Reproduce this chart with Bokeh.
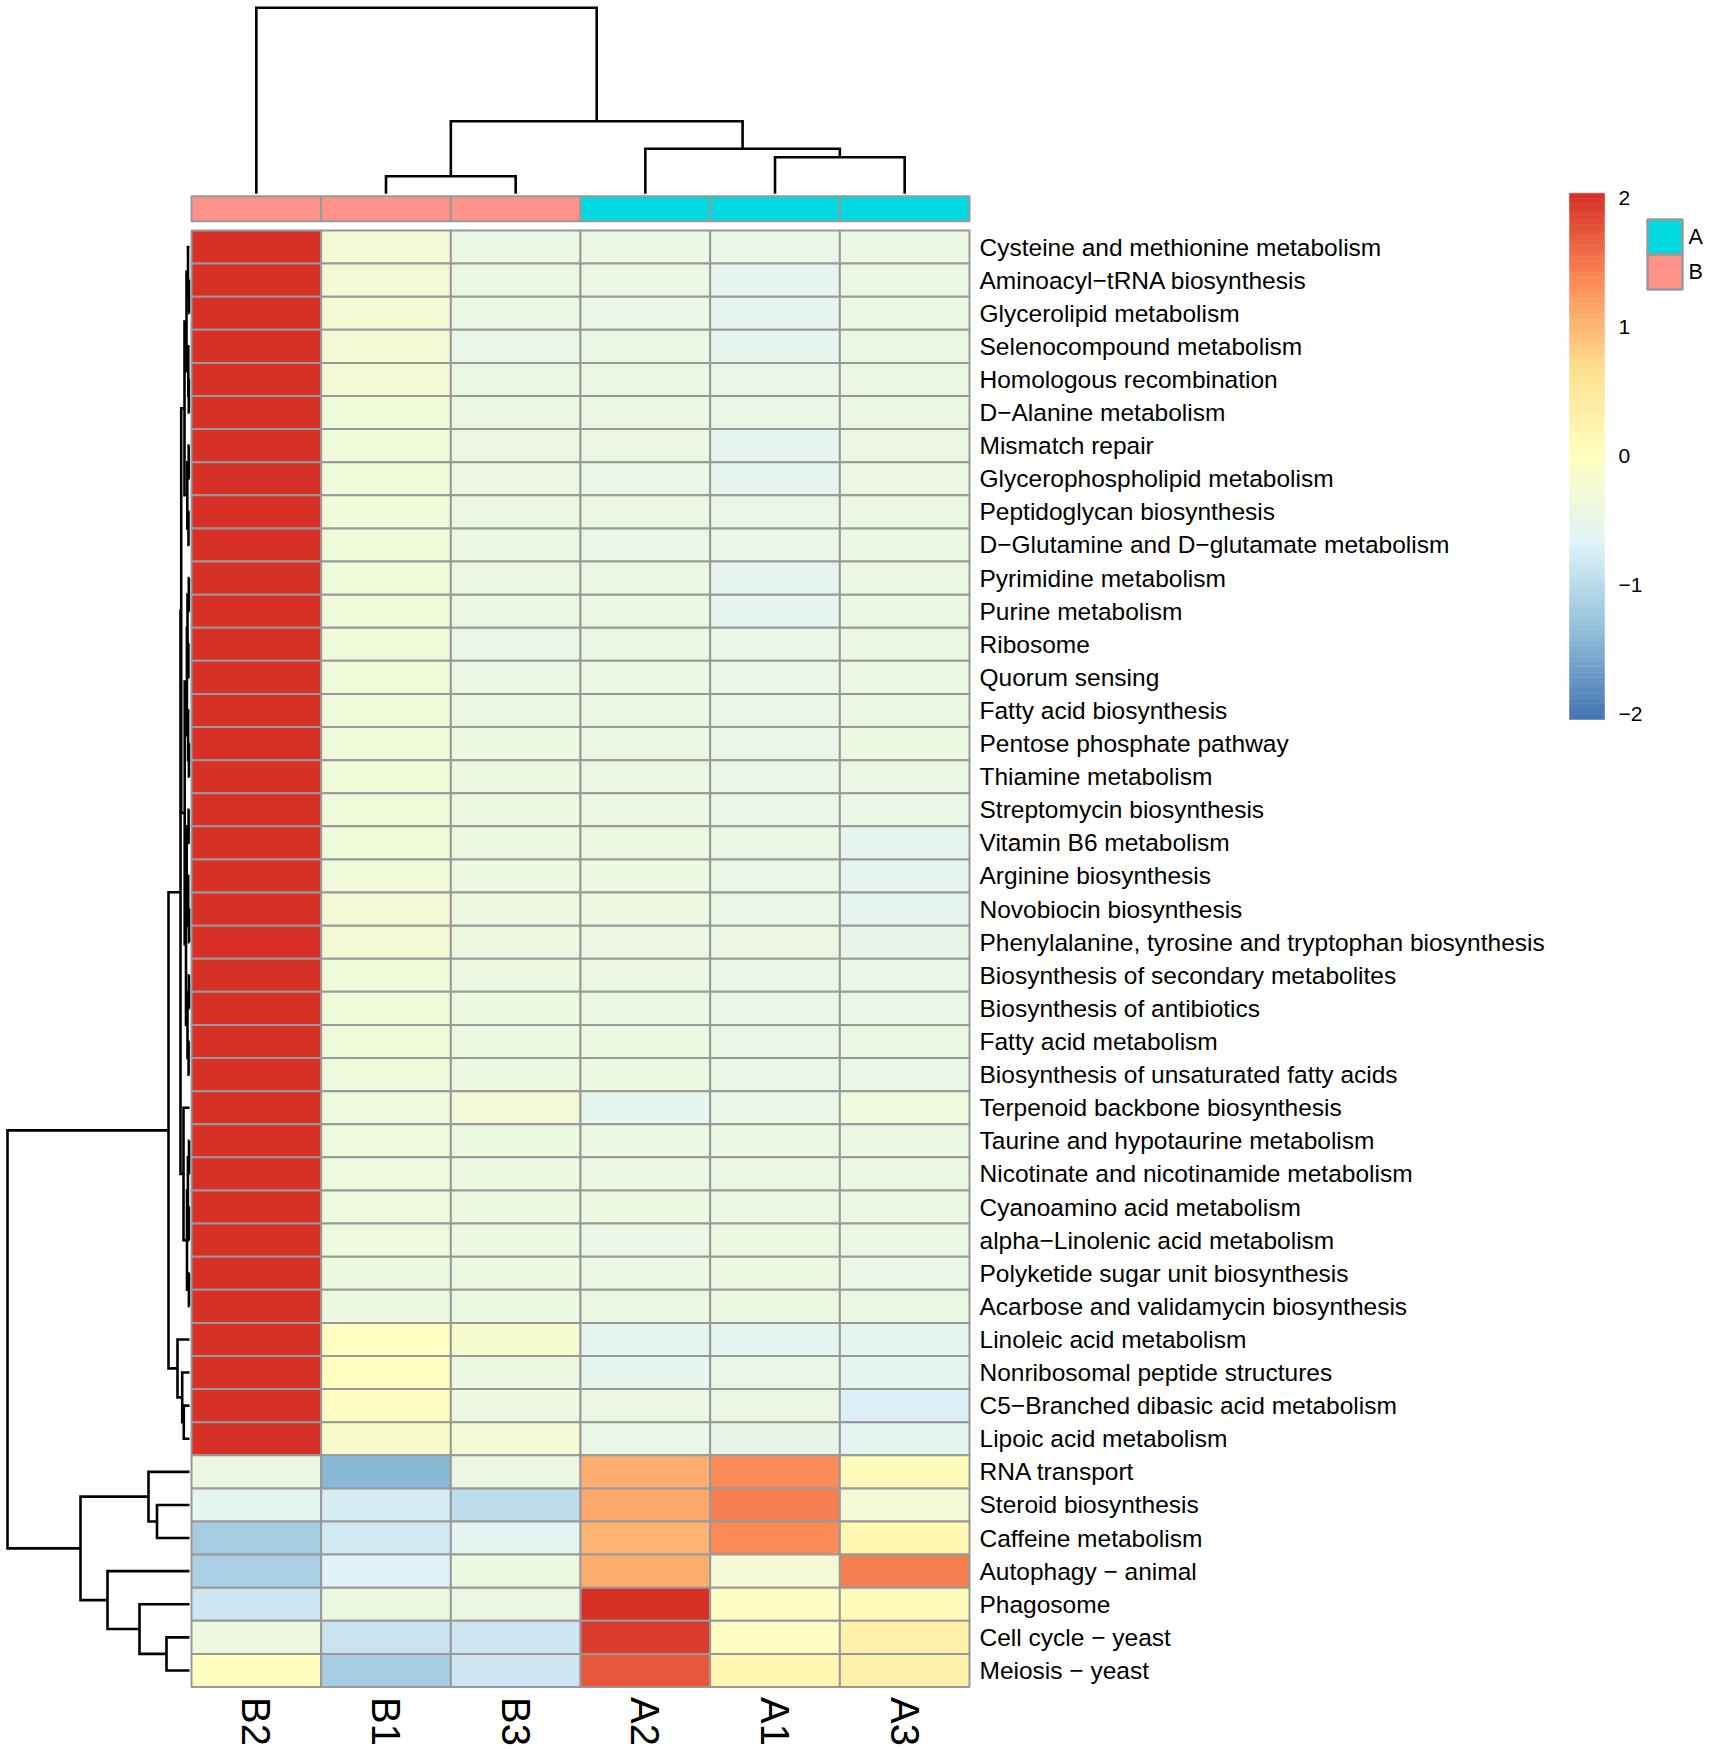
import numpy as np
from bokeh.plotting import figure
from bokeh.models import Range1d, ColumnDataSource
from bokeh.transform import linear_cmap
from bokeh.core.properties import value
from bokeh.embed import file_html
from bokeh.resources import INLINE

# ---------------- data ----------------
col_names = ["B2", "B1", "B3", "A2", "A1", "A3"]
col_groups = ["B", "B", "B", "A", "A", "A"]
legend_groups = ["A", "B"]
group_colors = {"A": "#00D9E0", "B": "#FF9289"}

row_names = [
    "Cysteine and methionine metabolism",
    "Aminoacyl\u2212tRNA biosynthesis",
    "Glycerolipid metabolism",
    "Selenocompound metabolism",
    "Homologous recombination",
    "D\u2212Alanine metabolism",
    "Mismatch repair",
    "Glycerophospholipid metabolism",
    "Peptidoglycan biosynthesis",
    "D\u2212Glutamine and D\u2212glutamate metabolism",
    "Pyrimidine metabolism",
    "Purine metabolism",
    "Ribosome",
    "Quorum sensing",
    "Fatty acid biosynthesis",
    "Pentose phosphate pathway",
    "Thiamine metabolism",
    "Streptomycin biosynthesis",
    "Vitamin B6 metabolism",
    "Arginine biosynthesis",
    "Novobiocin biosynthesis",
    "Phenylalanine, tyrosine and tryptophan biosynthesis",
    "Biosynthesis of secondary metabolites",
    "Biosynthesis of antibiotics",
    "Fatty acid metabolism",
    "Biosynthesis of unsaturated fatty acids",
    "Terpenoid backbone biosynthesis",
    "Taurine and hypotaurine metabolism",
    "Nicotinate and nicotinamide metabolism",
    "Cyanoamino acid metabolism",
    "alpha\u2212Linolenic acid metabolism",
    "Polyketide sugar unit biosynthesis",
    "Acarbose and validamycin biosynthesis",
    "Linoleic acid metabolism",
    "Nonribosomal peptide structures",
    "C5\u2212Branched dibasic acid metabolism",
    "Lipoic acid metabolism",
    "RNA transport",
    "Steroid biosynthesis",
    "Caffeine metabolism",
    "Autophagy \u2212 animal",
    "Phagosome",
    "Cell cycle \u2212 yeast",
    "Meiosis \u2212 yeast",
]

# row z-scores, columns in the order of col_names
values = [
    [2.04, -0.27, -0.44, -0.44, -0.47, -0.42],
    [2.04, -0.28, -0.42, -0.43, -0.55, -0.44],
    [2.04, -0.28, -0.42, -0.48, -0.55, -0.44],
    [2.04, -0.28, -0.46, -0.42, -0.54, -0.44],
    [2.04, -0.28, -0.44, -0.44, -0.46, -0.44],
    [2.04, -0.29, -0.42, -0.43, -0.46, -0.44],
    [2.04, -0.30, -0.42, -0.43, -0.54, -0.44],
    [2.04, -0.29, -0.42, -0.45, -0.55, -0.43],
    [2.04, -0.30, -0.44, -0.44, -0.48, -0.44],
    [2.04, -0.30, -0.42, -0.47, -0.48, -0.42],
    [2.04, -0.30, -0.42, -0.43, -0.56, -0.42],
    [2.04, -0.29, -0.43, -0.43, -0.56, -0.41],
    [2.04, -0.30, -0.45, -0.44, -0.47, -0.43],
    [2.04, -0.29, -0.44, -0.44, -0.47, -0.44],
    [2.04, -0.30, -0.42, -0.44, -0.48, -0.44],
    [2.04, -0.30, -0.40, -0.44, -0.48, -0.40],
    [2.04, -0.30, -0.40, -0.44, -0.48, -0.42],
    [2.04, -0.30, -0.40, -0.44, -0.48, -0.45],
    [2.04, -0.30, -0.38, -0.40, -0.44, -0.56],
    [2.04, -0.29, -0.38, -0.38, -0.46, -0.55],
    [2.04, -0.28, -0.38, -0.38, -0.46, -0.56],
    [2.04, -0.28, -0.40, -0.42, -0.44, -0.52],
    [2.04, -0.30, -0.40, -0.44, -0.45, -0.45],
    [2.04, -0.30, -0.40, -0.44, -0.45, -0.45],
    [2.04, -0.32, -0.40, -0.40, -0.48, -0.44],
    [2.04, -0.34, -0.38, -0.40, -0.46, -0.45],
    [2.04, -0.36, -0.28, -0.56, -0.46, -0.36],
    [2.04, -0.36, -0.38, -0.42, -0.44, -0.42],
    [2.04, -0.36, -0.38, -0.42, -0.44, -0.44],
    [2.04, -0.36, -0.40, -0.40, -0.44, -0.44],
    [2.04, -0.36, -0.38, -0.46, -0.40, -0.44],
    [2.04, -0.38, -0.38, -0.42, -0.38, -0.46],
    [2.04, -0.38, -0.40, -0.42, -0.38, -0.44],
    [2.04, -0.02, -0.20, -0.58, -0.58, -0.60],
    [2.04, -0.04, -0.40, -0.56, -0.46, -0.56],
    [2.04, -0.08, -0.40, -0.44, -0.44, -0.70],
    [2.04, -0.15, -0.25, -0.48, -0.52, -0.58],
    [-0.42, -1.42, -0.42, 1.07, 1.36, 0.05],
    [-0.60, -0.75, -0.94, 1.13, 1.43, -0.28],
    [-1.16, -0.80, -0.60, 1.03, 1.37, 0.20],
    [-1.13, -0.66, -0.40, 1.08, -0.28, 1.43],
    [-0.85, -0.40, -0.42, 2.04, -0.08, 0.05],
    [-0.38, -0.87, -0.85, 1.95, -0.05, 0.30],
    [0.03, -1.16, -0.85, 1.72, 0.18, 0.30],
]

# hclust-style merges: negative = leaf -(index+1), positive = earlier merge (1-based)
row_merges = [
    (-2, -3, 0.6), (-1, 1, 1.5), (-5, -6, 0.7), (-4, 3, 1.2), (2, 4, 3.0),
    (-7, -8, 0.8), (-9, -10, 1.0), (6, 7, 2.2), (5, 8, 5.0),
    (-11, -12, 0.7), (-13, -14, 1.1), (10, 11, 2.0), (-16, -17, 0.6),
    (-15, 13, 1.4), (12, 14, 2.6), (-18, -19, 0.9), (-21, -22, 0.5),
    (-20, 17, 1.3), (16, 18, 2.8), (-23, -24, 0.6), (-25, -26, 0.9),
    (20, 21, 2.0), (19, 22, 3.5), (15, 23, 4.8), (9, 24, 8.3),
    (-28, -29, 0.5), (-30, -31, 0.7), (26, 27, 1.6), (-32, -33, 0.6),
    (28, 29, 2.5), (-27, 30, 6.0), (25, 31, 9.0),
    (-36, -37, 5.7), (-35, 33, 7.3), (-34, 34, 12.0), (32, 35, 21.0),
    (-39, -40, 32.5), (-38, 37, 41.0), (-43, -44, 23.0), (-42, 39, 50.0),
    (-41, 40, 82.0), (38, 41, 109.0), (36, 42, 182.0),
]
col_merges = [
    (-2, -3, 17.6), (-5, -6, 36.6), (-4, 2, 45.0), (1, 3, 72.6), (-1, 4, 186.0),
]

anchor_colors = ["#4575B4", "#91BFDB", "#E0F3F8", "#FFFFBF", "#FEE090", "#FC8D59", "#D73027"]
legend_ticks = [2, 1, 0, -1, -2]

# ---------------- layout constants (page pixels) ----------------
W, H = 1705, 1745
X0, X1 = 191.0, 969.0          # heatmap left/right
Y0, Y1 = 230.0, 1686.5         # heatmap top/bottom
CW = (X1 - X0) / len(col_names)
RH = (Y1 - Y0) / len(row_names)
ANN_TOP, ANN_H = 195.7, 25.0
CT_BASE, CT_TOP = 193.3, 7.3   # column tree
RT_BASE, RT_LEFT = 189.0, 7.0  # row tree
CB_X0, CB_X1, CB_TOP, CB_BOT = 1569.0, 1604.0, 192.7, 719.0
FONT = value("Liberation Sans")
GRID = "#999999"

# palette like colorRampPalette(rev(brewer.pal(7,"RdYlBu")))(100)
def hex2rgb(h):
    return [int(h[i:i + 2], 16) for i in (1, 3, 5)]
anc = np.array([hex2rgb(c) for c in anchor_colors], dtype=float)
t_anc = np.linspace(0, 1, len(anchor_colors))
t = np.linspace(0, 1, 100)
palette = ["#%02X%02X%02X" % tuple(int(round(np.interp(tt, t_anc, anc[:, k]))) for k in range(3)) for tt in t]

vals = np.array(values)
M = float(np.abs(vals).max())

p = figure(width=W, height=H, output_backend="svg", toolbar_location=None,
           x_range=Range1d(0, W), y_range=Range1d(H, 0),
           min_border=0, outline_line_color=None)
p.axis.visible = False
p.grid.visible = False
p.background_fill_color = "white"
p.border_fill_color = "white"

# ---------------- heatmap ----------------
nr, nc = vals.shape
xs, ys, vs = [], [], []
for i in range(nr):
    for j in range(nc):
        xs.append(X0 + (j + 0.5) * CW)
        ys.append(Y0 + (i + 0.5) * RH)
        vs.append(vals[i, j])
src = ColumnDataSource(dict(x=xs, y=ys, v=vs))
p.rect(x="x", y="y", width=CW, height=RH, source=src,
       fill_color=linear_cmap("v", palette, low=-M, high=M),
       line_color=GRID, line_width=2)

# annotation bar
p.rect(x=[X0 + (j + 0.5) * CW for j in range(nc)], y=ANN_TOP + ANN_H / 2,
       width=CW, height=ANN_H, fill_color=[group_colors[g] for g in col_groups],
       line_color=GRID, line_width=2)

# ---------------- dendrograms ----------------
def tree(merges):
    pos, hgt, segs = {}, {}, []
    def node(r):
        if r < 0:
            return float(-r - 1), 0.0
        return pos[r], hgt[r]
    for k, (a, b, h) in enumerate(merges, start=1):
        pa, ha = node(a)
        pb, hb = node(b)
        pos[k] = (pa + pb) / 2
        hgt[k] = h
        segs.append(([pa, pa, pb, pb], [ha, h, h, hb]))
    return segs, max(hgt.values())

csegs, croot = tree(col_merges)
cxs = [[X0 + (q + 0.5) * CW for q in s[0]] for s in csegs]
cys = [[CT_BASE - hh / croot * (CT_BASE - CT_TOP) for hh in s[1]] for s in csegs]
p.multi_line(cxs, cys, line_color="black", line_width=2.6, line_join="miter")

rsegs, rroot = tree(row_merges)
rys = [[Y0 + (q + 0.5) * RH for q in s[0]] for s in rsegs]
rxs = [[RT_BASE - hh / rroot * (RT_BASE - RT_LEFT) for hh in s[1]] for s in rsegs]
p.multi_line(rxs, rys, line_color="black", line_width=2.6, line_join="miter")

# ---------------- labels ----------------
p.text(x=X1 + 10, y=[Y0 + (i + 0.5) * RH for i in range(nr)], text=row_names,
       text_font=FONT, text_font_size="24.5px", text_align="left",
       text_baseline="middle", text_color="black")
p.text(x=[X0 + (j + 0.5) * CW for j in range(nc)], y=Y1 + 10, text=col_names,
       angle=-np.pi / 2, text_font=FONT, text_font_size="40px",
       text_align="left", text_baseline="middle", text_color="black")

# ---------------- colour bar ----------------
breaks = np.linspace(-M, M, len(palette) + 1)
def vy(v):
    return CB_TOP + (M - v) / (2 * M) * (CB_BOT - CB_TOP)
p.quad(left=CB_X0, right=CB_X1, top=[vy(b) for b in breaks[1:]],
       bottom=[vy(b) for b in breaks[:-1]], fill_color=palette,
       line_color=palette, line_width=0.5)
p.text(x=CB_X1 + 14, y=[vy(v) for v in legend_ticks],
       text=[("\u2212%d" % -v) if v < 0 else str(v) for v in legend_ticks],
       text_font=FONT, text_font_size="21px", text_align="left",
       text_baseline="middle", text_color="black")

# ---------------- group legend ----------------
LG_X0, LG_TOP, LG_S = 1647.0, 219.0, 35.0
p.rect(x=LG_X0 + LG_S / 2, y=[LG_TOP + (k + 0.5) * LG_S for k in range(len(legend_groups))],
       width=LG_S, height=LG_S, fill_color=[group_colors[g] for g in legend_groups],
       line_color=GRID, line_width=2.5)
p.text(x=LG_X0 + LG_S + 6, y=[LG_TOP + (k + 0.5) * LG_S for k in range(len(legend_groups))],
       text=legend_groups, text_font=FONT, text_font_size="21.5px",
       text_align="left", text_baseline="middle", text_color="black")

open("out.html", "w").write(file_html(p, INLINE))
